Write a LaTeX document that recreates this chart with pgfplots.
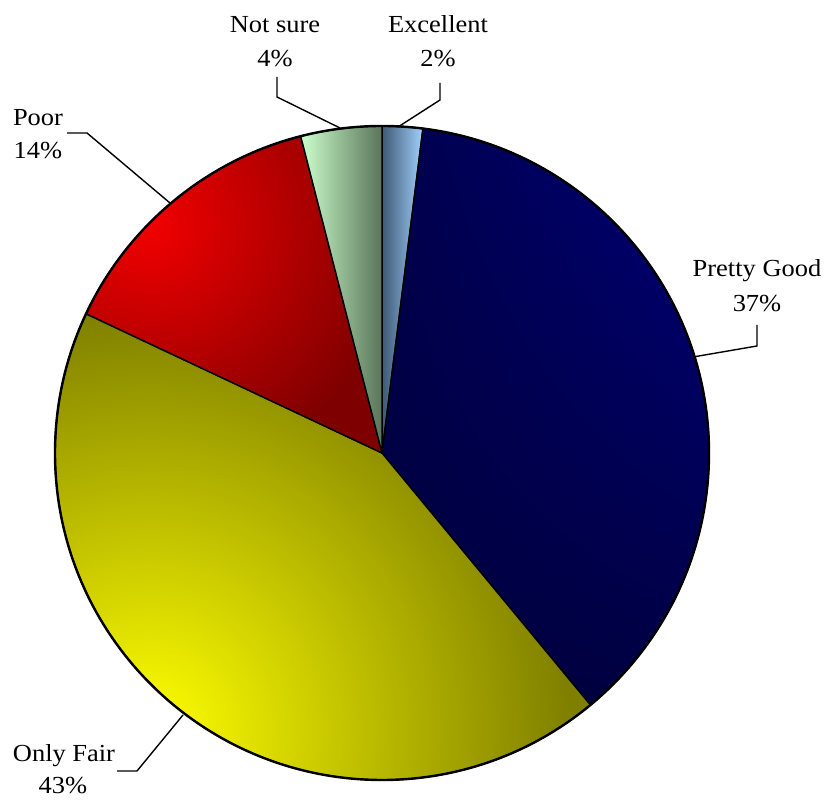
\documentclass[border=0pt]{standalone}
\usepackage{pgfplots}
\pgfplotsset{compat=1.18}
\usetikzlibrary{shadings}
\usepackage{fontspec}
\setmainfont{Liberation Serif}[FakeStretch=1.08]

\definecolor{pgUL}{HTML}{00004C}
\definecolor{pgUR}{HTML}{00007C}
\definecolor{pgLL}{HTML}{00003C}
\definecolor{pgLR}{HTML}{000042}
\definecolor{exL}{HTML}{3E5874}
\definecolor{exR}{HTML}{A2D2FF}
\definecolor{nsL}{HTML}{CCFFCC}
\definecolor{nsR}{HTML}{5A745A}

% shadings are laid on the square that holds the whole pie (654 px = 50bp)
% yellow to olive, spreading from the lower left
\pgfdeclarefunctionalshading{fairshade}{\pgfpoint{-50bp}{-50bp}}{\pgfpoint{50bp}{50bp}}{}{
  13.08 mul 277 add dup mul exch 13.08 mul 232 add dup mul add sqrt 420 div
  dup 1 gt {pop 1} if
  -0.5 mul 1 add dup 0
}
% red to dark red, spreading from the upper left
\pgfdeclarefunctionalshading{poorshade}{\pgfpoint{-50bp}{-50bp}}{\pgfpoint{50bp}{50bp}}{}{
  13.08 mul 228 sub dup mul exch 13.08 mul 232 add dup mul add sqrt 250 div
  dup 1 gt {pop 1} if
  -0.45 mul 0.95 add 0 0
}

% start (cumulative %), value (%)
\newcommand\slicepath[2]{(axis cs:0,0) -- ++({90-3.6*(#1)}:327pt)
    arc[start angle={90-3.6*(#1)}, end angle={90-3.6*((#1)+(#2))}, radius=327pt] -- cycle}
\newcommand\slice[3]{\path[draw=black, line width=1.5pt, line join=round, #3] \slicepath{#1}{#2};}
\newcommand\fslice[3]{%
  \begin{scope}
    \clip \slicepath{#1}{#2};
    \shade[shading=#3] (axis cs:0,0) ++(-327pt,-327pt) rectangle ++(654pt,654pt);
  \end{scope}
  \draw[line width=1.5pt, line join=round] \slicepath{#1}{#2};}

\begin{document}
\begin{tikzpicture}[every node/.style={font=\fontsize{24.5}{33}\selectfont, inner sep=0pt}]
\useasboundingbox (0,0) rectangle (827pt,802pt);
\begin{axis}[
  at={(382pt,349pt)}, anchor=center,
  x=327pt, y=327pt,
  xmin=-1, xmax=1, ymin=-1, ymax=1,
  hide axis, clip=false]
  % Excellent 2, Pretty Good 37, Only Fair 43, Poor 14, Not sure 4
  \slice{0}{2}{left color=exL, right color=exR}
  \slice{2}{37}{upper left=pgUL, upper right=pgUR, lower left=pgLL, lower right=pgLR}
  \fslice{39}{43}{fairshade}
  \fslice{82}{14}{poorshade}
  \slice{96}{4}{left color=nsL, right color=nsR}
  \draw[line width=2.4pt] (axis cs:0,0) circle[radius=327pt];
\end{axis}
% leader lines
\draw[line width=1.4pt] (440pt,719pt) -- (440pt,702pt) -- (398pt,675pt);
\draw[line width=1.4pt] (277pt,725pt) -- (277pt,705pt) -- (340pt,674pt);
\draw[line width=1.4pt] (67pt,669pt) -- (87pt,669pt) -- (170pt,599pt);
\draw[line width=1.4pt] (757pt,477pt) -- (757pt,456pt) -- (693pt,445pt);
\draw[line width=1.4pt] (117pt,31pt) -- (137pt,31pt) -- (183pt,87pt);
% labels
\node[anchor=base] at (438pt,769pt) {Excellent};
\node[anchor=base] at (438pt,735pt) {2\%};
\node[anchor=base] at (275pt,769pt) {Not sure};
\node[anchor=base] at (275pt,735pt) {4\%};
\node[anchor=base] at (38pt,676pt) {Poor};
\node[anchor=base] at (38pt,643pt) {14\%};
\node[anchor=base] at (757pt,525pt) {Pretty Good};
\node[anchor=base] at (757pt,490pt) {37\%};
\node[anchor=base] at (64pt,40pt) {Only Fair};
\node[anchor=base] at (63pt,8pt) {43\%};
\end{tikzpicture}
\end{document}
